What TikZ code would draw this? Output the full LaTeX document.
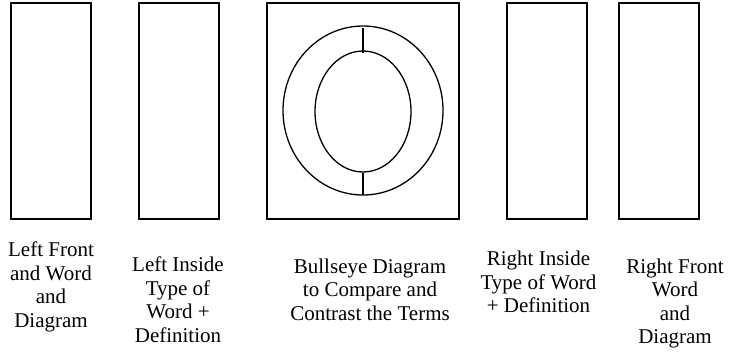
\documentclass[tikz,border=0pt]{standalone}
\usepackage{fontspec}
\setmainfont{Liberation Serif}
\newfontfamily\panelfont{Liberation Serif}
\usepackage{tikz}
\usetikzlibrary{calc,shapes.geometric}

\begin{document}
\begin{tikzpicture}[x=1pt,y=-1pt,
		panel/.style={draw, line width=1.3pt, rectangle, inner sep=0pt, minimum height=216pt},
		ring/.style={draw, line width=1.3pt, ellipse, inner sep=0pt},
		paneltext/.style={align=center, anchor=north, inner sep=0pt, font=\panelfont\fontsize{21}{23.4}\selectfont}]
		% 0. 画布大小
		\useasboundingbox (0,0) rectangle (741,351);
		
		% 1. 五个面板
		\node[panel, minimum width=80pt] (leftfront) at (51,111) {};
		\node[panel, minimum width=80pt] (leftinside) at (179,111) {};
		\node[panel, minimum width=192pt] (centre) at (363,111) {};
		\node[panel, minimum width=80pt] (rightinside) at (547,111) {};
		\node[panel, minimum width=80pt] (rightfront) at (659,111) {};
		
		% 左边框上的加粗短线
		\draw[line width=2pt] (267,50) -- (267,72);
		\draw[line width=2pt] (267,180) -- (267,207);
		
		% 2. 靶心图：两个椭圆
		\node[ring, minimum width=160pt, minimum height=169pt] (outer) at (363,110.5) {};
		\node[ring, minimum width=96pt, minimum height=121pt] (inner) at (363,111.5) {};
		
		% 连接内外椭圆的两条竖线
		\draw[line width=1.3pt] ($(outer.north)+(0,3)$) -- ($(inner.north)+(0,3)$);
		\draw[line width=1.3pt] (inner.south) -- ($(outer.south)+(0,-1)$);
		
		% 3. 面板下方的文字
		\node[paneltext] (lftext) at (51,242) {Left Front\\and Word\\and\\Diagram};
		\node[paneltext] (litext) at (178,257) {Left Inside\\Type of\\Word +\\Definition};
		\node[paneltext] (cetext) at (370,258.5) {Bullseye Diagram\\to Compare and\\Contrast the Terms};
		\node[paneltext] (ritext) at (538.5,251) {Right Inside\\Type of Word\\+ Definition};
		\node[paneltext] (rftext) at (675,258.5) {Right Front\\Word\\and\\Diagram};
		
	\end{tikzpicture}
\end{document}
